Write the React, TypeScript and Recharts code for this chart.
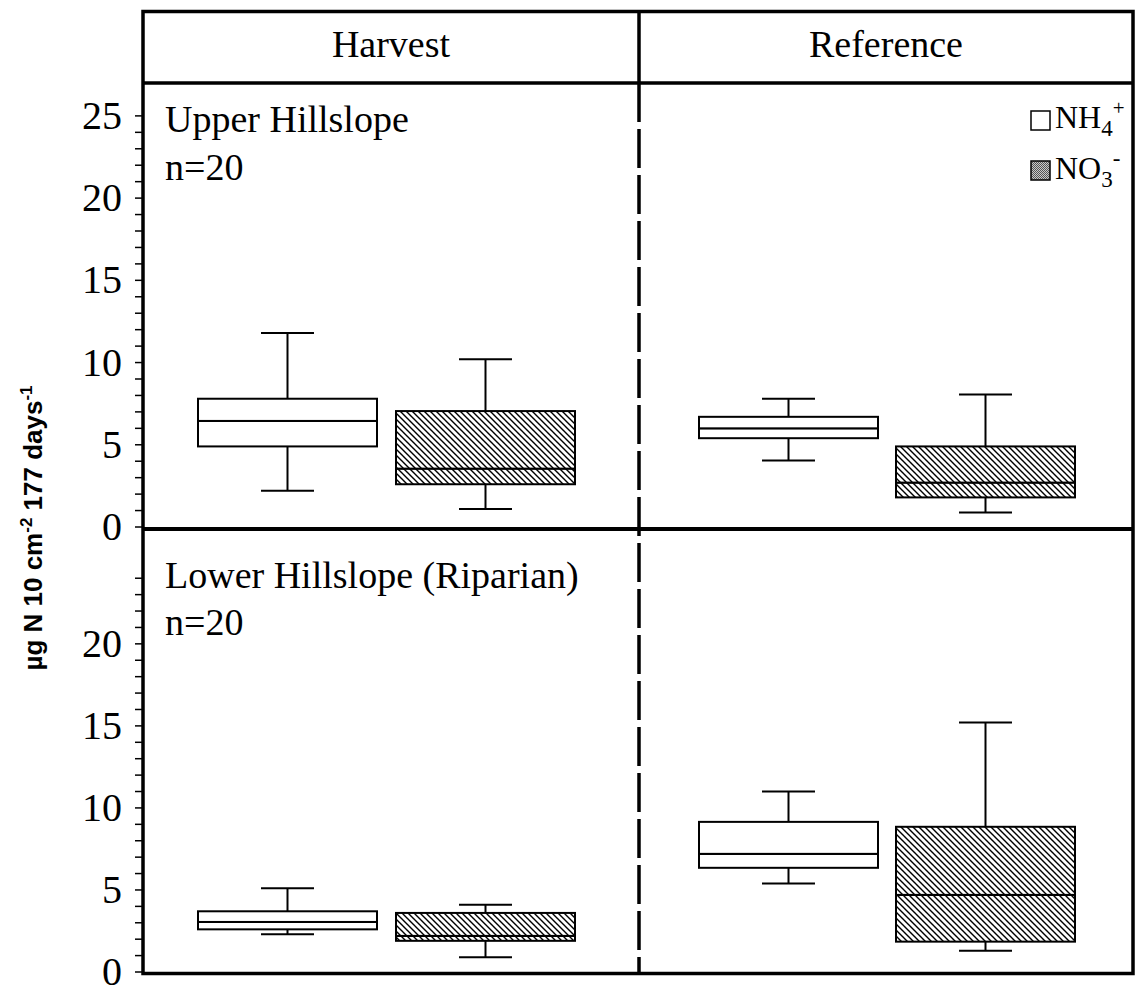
import { ComposedChart, Bar, XAxis, YAxis } from 'recharts'

const groups = ['NH4+', 'NO3-']

// five-number summaries per group: [min, q1, median, q3, max]
const upperHarvest = [
  [2.2, 4.9, 6.45, 7.8, 11.8],
  [1.1, 2.6, 3.55, 7.05, 10.2],
]
const upperReference = [
  [4.05, 5.4, 6.0, 6.7, 7.8],
  [0.88, 1.8, 2.7, 4.9, 8.05],
]
const lowerHarvest = [
  [2.3, 2.6, 3.05, 3.7, 5.1],
  [0.9, 1.9, 2.2, 3.6, 4.1],
]
const lowerReference = [
  [5.4, 6.35, 7.2, 9.15, 11.0],
  [1.3, 1.85, 4.7, 8.85, 15.2],
]

const upperTicks = [0, 1, 2, 3, 4, 5, 6, 7, 8, 9, 10, 11, 12, 13, 14, 15, 16, 17, 18, 19, 20, 21, 22, 23, 24, 25]
const lowerTicks = [0, 1, 2, 3, 4, 5, 6, 7, 8, 9, 10, 11, 12, 13, 14, 15, 16, 17, 18, 19, 20, 21, 22, 23, 24]
const labelledTicks = [0, 5, 10, 15, 20, 25]

const serif = '"Liberation Serif", "Times New Roman", serif'
const EXTRA = 22 // room below each plot so the "0" label is not clipped

const toRows = (stats: number[][]) =>
  stats.map(([min, q1, med, q3, max], i) => ({
    name: groups[i],
    base: min,
    lowWhisker: q1 - min,
    lowBox: med - q1,
    highBox: q3 - med,
    highWhisker: max - q3,
  }))

const whisker = (top: boolean) => (props: any) => {
  const { x, y, width, height } = props
  const cx = x + width / 2
  const capY = top ? y : y + height
  const cap = width * 0.148
  return (
    <g>
      <line x1={cx} x2={cx} y1={y} y2={y + height} stroke="#000" strokeWidth={2} />
      <line x1={cx - cap} x2={cx + cap} y1={capY} y2={capY} stroke="#000" strokeWidth={2} />
    </g>
  )
}

const boxShape = (props: any) => {
  const { x, y, width, height, payload } = props
  const hatched = payload && payload.name === 'NO3-'
  return (
    <rect
      x={x}
      y={y}
      width={width}
      height={height}
      fill={hatched ? 'url(#hatch)' : '#fff'}
      stroke="#000"
      strokeWidth={2}
    />
  )
}

const YTick = (props: any) => {
  const { x, y, payload } = props
  if (!labelledTicks.includes(payload.value)) return <g />
  return (
    <text x={x - 13} y={y + 13} textAnchor="end" fontFamily={serif} fontSize={40} fill="#000">
      {payload.value}
    </text>
  )
}

interface PanelProps {
  stats: number[][]
  left: number
  top: number
  width: number
  height: number
  ticks: number[]
  showAxis: boolean
  pad: { left: number; right: number }
}

function Panel({ stats, left, top, width, height, ticks, showAxis, pad }: PanelProps) {
  return (
    <div style={{ position: 'absolute', left, top }}>
      <ComposedChart
        width={width}
        height={height + EXTRA}
        data={toRows(stats)}
        margin={{ top: 0, right: 0, bottom: EXTRA, left: 0 }}
        barSize={179}
      >
        <XAxis dataKey="name" hide padding={pad} />
        <YAxis
          hide={!showAxis}
          width={83}
          domain={[0, 27]}
          ticks={ticks}
          interval={0}
          allowDataOverflow
          axisLine={false}
          tickSize={8}
          tickMargin={0}
          tickLine={{ stroke: '#000', strokeWidth: 1.5 }}
          tick={<YTick />}
        />
        <Bar dataKey="base" stackId="b" fill="none" isAnimationActive={false} />
        <Bar dataKey="lowWhisker" stackId="b" shape={whisker(false)} isAnimationActive={false} />
        <Bar dataKey="lowBox" stackId="b" shape={boxShape} isAnimationActive={false} />
        <Bar dataKey="highBox" stackId="b" shape={boxShape} isAnimationActive={false} />
        <Bar dataKey="highWhisker" stackId="b" shape={whisker(true)} isAnimationActive={false} />
      </ComposedChart>
    </div>
  )
}

export default function App() {
  return (
    <div style={{ position: 'absolute', left: 0, top: 0, width: 1137, height: 991, background: '#fff' }}>
      <svg width={0} height={0} style={{ position: 'absolute' }}>
        <defs>
          <pattern id="hatch" patternUnits="userSpaceOnUse" width={6} height={6}>
            <rect width={6} height={6} fill="#fff" />
            <path d="M-1,-1 L7,7 M-1,5 L1,7 M5,-1 L7,1" stroke="#000" strokeWidth={1.4} />
          </pattern>
          <pattern id="stipple" patternUnits="userSpaceOnUse" width={2} height={2}>
            <rect width={2} height={2} fill="#c8c8c8" />
            <rect width={1} height={1} fill="#555" />
            <rect x={1} y={1} width={1} height={1} fill="#555" />
          </pattern>
        </defs>
      </svg>

      <Panel stats={upperHarvest} left={60} top={83} width={579} height={444} ticks={upperTicks} showAxis pad={{ left: 45, right: 55 }} />
      <Panel stats={upperReference} left={639} top={83} width={494} height={444} ticks={upperTicks} showAxis={false} pad={{ left: 51, right: 49 }} />
      <Panel stats={lowerHarvest} left={60} top={529} width={579} height={443} ticks={lowerTicks} showAxis pad={{ left: 45, right: 55 }} />
      <Panel stats={lowerReference} left={639} top={529} width={494} height={443} ticks={lowerTicks} showAxis={false} pad={{ left: 51, right: 49 }} />

      <svg width={1137} height={991} style={{ position: 'absolute', left: 0, top: 0, pointerEvents: 'none' }}>
        <g stroke="#000" fill="none">
          <rect x={143} y={11.5} width={990} height={962} strokeWidth={3.5} />
          <line x1={143} x2={1133} y1={83} y2={83} strokeWidth={3.5} />
          <line x1={143} x2={1133} y1={529} y2={529} strokeWidth={4} />
          <line x1={639} x2={639} y1={11.5} y2={83} strokeWidth={3.5} />
          <line x1={639} x2={639} y1={83} y2={973} strokeWidth={3.5} strokeDasharray="39 7" />
        </g>
        <g fontFamily={serif} fill="#000">
          <text x={391} y={57} fontSize={38} textAnchor="middle">Harvest</text>
          <text x={886} y={57} fontSize={38} textAnchor="middle">Reference</text>
          <text x={165} y={132} fontSize={38}>Upper Hillslope</text>
          <text x={165} y={180} fontSize={38}>n=20</text>
          <text x={165} y={588} fontSize={38}>Lower Hillslope (Riparian)</text>
          <text x={165} y={635} fontSize={38}>n=20</text>

          <rect x={1031} y={111} width={19} height={19} fill="#fff" stroke="#000" strokeWidth={1.5} />
          <text x={1055} y={128} fontSize={32}>
            NH<tspan fontSize={23} dy={8}>4</tspan><tspan fontSize={21} dy={-21}>+</tspan>
          </text>
          <rect x={1031} y={161} width={19} height={19} fill="url(#stipple)" stroke="#000" strokeWidth={1.5} />
          <text x={1055} y={179} fontSize={32}>
            NO<tspan fontSize={23} dy={8}>3</tspan><tspan fontSize={23} dy={-21}>-</tspan>
          </text>
        </g>
        <text
          transform="translate(42 528) rotate(-90)"
          textAnchor="middle"
          fontFamily='"Liberation Sans", Arial, sans-serif'
          fontWeight="bold"
          fontSize={26}
          fill="#000"
        >
          µg N 10 cm<tspan fontSize={17} dy={-10}>-2</tspan><tspan dy={10}> 177 days</tspan>
          <tspan fontSize={17} dy={-10}>-1</tspan>
        </text>
      </svg>
    </div>
  )
}
